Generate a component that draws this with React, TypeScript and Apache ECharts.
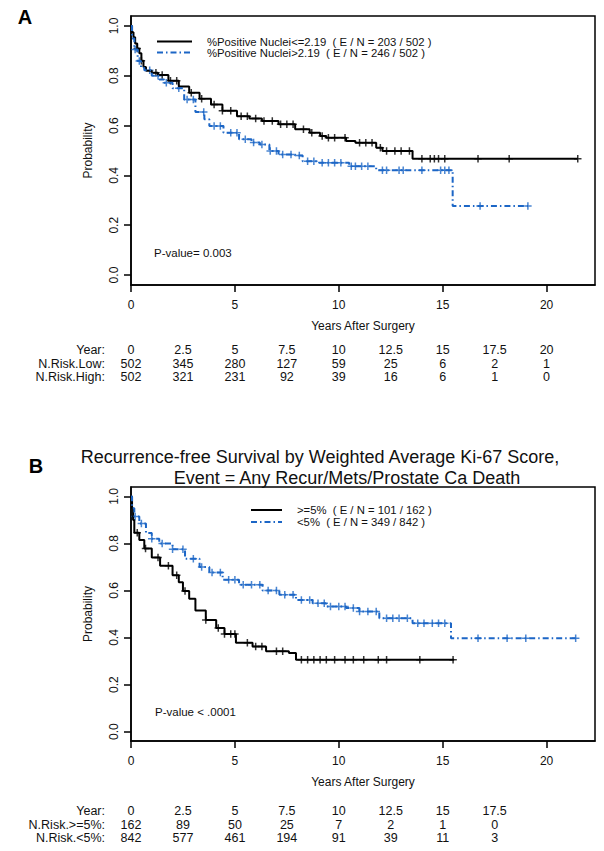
import React, { useEffect, useRef } from 'react';
import * as echarts from 'echarts';

const BLUE = '#1c66c6';
const BLACK = '#000000';
const FONT = "'Liberation Sans', Arial, Helvetica, sans-serif";

// ---------- Panel A : %Positive Nuclei ----------
const aLowTimes = [0, 0.05, 0.12, 0.2, 0.3, 0.4, 0.5, 0.6, 0.72, 1.0, 1.3, 1.8, 2.3, 2.8, 3.3, 3.85, 4.4, 5.1, 5.7, 6.3, 7.1, 7.9, 8.6, 9.1, 9.4, 10.35, 10.8, 11.8, 12.1, 13.55];
const aLowSurv = [1.0, 0.975, 0.955, 0.93, 0.91, 0.89, 0.86, 0.835, 0.82, 0.812, 0.803, 0.78, 0.757, 0.732, 0.708, 0.685, 0.66, 0.638, 0.628, 0.618, 0.605, 0.585, 0.571, 0.558, 0.551, 0.538, 0.531, 0.511, 0.498, 0.467];
const aLowEnd = 21.5;
const aLowCensor = [0.3, 0.5, 1.2, 1.5, 1.9, 2.2, 2.9, 3.4, 4.0, 4.4, 4.8, 5.3, 5.6, 6.0, 6.4, 6.8, 7.2, 7.5, 7.8, 8.3, 8.7, 9.2, 9.5, 9.8, 10.3, 11.0, 11.3, 11.6, 12.0, 12.3, 12.7, 13.0, 13.4, 14.0, 14.4, 14.6, 14.8, 15.1, 16.7, 18.2, 21.5];

const aHighTimes = [0, 0.05, 0.16, 0.32, 0.48, 0.64, 1.0, 1.36, 1.6, 2.0, 2.56, 3.1, 3.53, 3.77, 4.45, 5.2, 5.8, 6.2, 6.66, 7.1, 7.9, 8.26, 9.06, 10.5, 11.8, 15.48];
const aHighSurv = [1.0, 0.95, 0.906, 0.859, 0.832, 0.822, 0.8, 0.785, 0.772, 0.75, 0.705, 0.655, 0.625, 0.598, 0.571, 0.545, 0.532, 0.524, 0.498, 0.484, 0.48, 0.457, 0.451, 0.437, 0.421, 0.277];
const aHighEnd = 19.1;
const aHighCensor = [0.2, 0.4, 0.9, 1.3, 1.7, 2.3, 2.7, 3.0, 3.5, 4.0, 4.3, 4.8, 5.1, 5.5, 5.9, 6.3, 6.7, 7.0, 7.3, 7.7, 8.1, 8.5, 8.8, 9.2, 9.5, 9.8, 10.1, 10.6, 10.8, 11.1, 11.4, 12.1, 12.3, 12.9, 13.1, 14.0, 14.9, 15.1, 15.3, 16.8, 19.1];

const aLegend = ['%Positive Nuclei<=2.19  ( E / N = 203 / 502 )', '%Positive Nuclei>2.19  ( E / N = 246 / 502 )'];
const aPValue = 'P-value= 0.003';
const aRiskYears = [0, 2.5, 5, 7.5, 10, 12.5, 15, 17.5, 20];
const aRiskLow = [502, 345, 280, 127, 59, 25, 6, 2, 1];
const aRiskHigh = [502, 321, 231, 92, 39, 16, 6, 1, 0];
const aRiskLabels = ['Year:', 'N.Risk.Low:', 'N.Risk.High:'];

// ---------- Panel B : Ki-67 ----------
const bHighTimes = [0, 0.05, 0.1, 0.16, 0.4, 0.64, 1.0, 1.4, 2.0, 2.3, 2.5, 2.8, 3.1, 3.6, 4.1, 4.5, 5.05, 5.85, 6.5, 7.6, 7.94];
const bHighSurv = [1.0, 0.95, 0.9, 0.845, 0.815, 0.778, 0.74, 0.705, 0.665, 0.635, 0.598, 0.565, 0.515, 0.475, 0.44, 0.415, 0.378, 0.362, 0.342, 0.334, 0.305];
const bHighEnd = 15.55;
const bHighCensor = [0.3, 0.7, 1.3, 1.8, 2.2, 2.6, 3.6, 4.2, 4.5, 4.8, 5.0, 5.6, 6.0, 6.3, 7.0, 7.3, 8.2, 8.5, 8.8, 9.1, 9.4, 9.8, 10.3, 10.7, 11.2, 11.9, 12.3, 13.9, 15.5];

const bLowTimes = [0, 0.05, 0.16, 0.4, 0.72, 1.0, 1.36, 2.0, 2.6, 3.3, 3.77, 4.41, 5.2, 6.33, 7.14, 7.94, 8.74, 9.38, 10.35, 10.99, 11.95, 13.55, 15.4];
const bLowSurv = [1.0, 0.95, 0.915, 0.885, 0.844, 0.82, 0.8, 0.775, 0.735, 0.7, 0.676, 0.646, 0.624, 0.6, 0.582, 0.56, 0.546, 0.532, 0.525, 0.511, 0.482, 0.461, 0.397];
const bLowEnd = 21.4;
const bLowCensor = [0.2, 0.5, 1.0, 1.5, 2.0, 2.5, 3.0, 3.4, 3.9, 4.3, 4.7, 5.0, 5.4, 5.8, 6.2, 6.6, 7.0, 7.4, 7.8, 8.2, 8.6, 9.0, 9.3, 9.6, 10.0, 10.3, 10.7, 11.0, 11.4, 11.8, 12.3, 12.6, 12.9, 13.3, 13.8, 14.1, 14.5, 14.8, 15.1, 16.7, 18.1, 19.0, 21.4];

const bTitle = ['Recurrence-free Survival by Weighted Average Ki-67 Score,', 'Event = Any Recur/Mets/Prostate Ca Death'];
const bLegend = ['>=5%  ( E / N = 101 / 162 )', '<5%  ( E / N = 349 / 842 )'];
const bPValue = 'P-value < .0001';
const bRiskYears = [0, 2.5, 5, 7.5, 10, 12.5, 15, 17.5];
const bRiskHigh = [162, 89, 50, 25, 7, 2, 1, 0];
const bRiskLow = [842, 577, 461, 194, 91, 39, 11, 3];
const bRiskLabels = ['Year:', 'N.Risk.>=5%:', 'N.Risk.<5%:'];

const xTicks = [0, 5, 10, 15, 20];
const yTicks = [0, 0.2, 0.4, 0.6, 0.8, 1.0];

const PLUS = 'path://M4,0L6,0L6,4L10,4L10,6L6,6L6,10L4,10L4,6L0,6L0,4L4,4Z';
const DASHDOT = [6, 3, 1.5, 3];

function stepData(times: number[], surv: number[], end: number) {
  const d = times.map((t, i) => [t, surv[i]]);
  d.push([end, surv[surv.length - 1]]);
  return d;
}
function censorData(times: number[], surv: number[], cens: number[]) {
  return cens.map((c) => {
    let s = surv[0];
    for (let i = 0; i < times.length; i++) if (times[i] <= c) s = surv[i];
    return [c, s];
  });
}

function makeXAxis(gi: number) {
  return {
    gridIndex: gi,
    type: 'value',
    min: 0,
    max: 22.33,
    axisLine: { show: true, onZero: false, lineStyle: { color: '#000', width: 1.5 } },
    axisTick: { show: true, length: 7, customValues: xTicks, lineStyle: { color: '#000', width: 1.5 } },
    axisLabel: { customValues: xTicks, fontSize: 12, color: '#111', margin: 14, fontFamily: FONT },
    splitLine: { show: false },
    name: 'Years After Surgery',
    nameLocation: 'middle',
    nameGap: 35,
    nameTextStyle: { fontSize: 12, color: '#111', fontFamily: FONT },
  };
}
function makeYAxis(gi: number) {
  return {
    gridIndex: gi,
    type: 'value',
    min: -0.04,
    max: 1.04,
    axisLine: { show: true, onZero: false, lineStyle: { color: '#000', width: 1.5 } },
    axisTick: { show: true, length: 7, customValues: yTicks, lineStyle: { color: '#000', width: 1.5 } },
    axisLabel: {
      customValues: yTicks,
      rotate: 90,
      fontSize: 12,
      color: '#111',
      margin: 11,
      fontFamily: FONT,
      formatter: (v: number) => v.toFixed(1),
    },
    splitLine: { show: false },
    name: 'Probability',
    nameLocation: 'middle',
    nameGap: 37,
    nameRotate: 90,
    nameTextStyle: { fontSize: 12, color: '#111', fontFamily: FONT },
  };
}

function lineSeries(gi: number, data: number[][], color: string, dash: any) {
  return {
    type: 'line',
    xAxisIndex: gi,
    yAxisIndex: gi,
    step: 'end',
    symbol: 'none',
    data,
    lineStyle: { color, width: 2, type: dash },
    silent: true,
  };
}
function censorSeries(gi: number, data: number[][], color: string) {
  return {
    type: 'scatter',
    xAxisIndex: gi,
    yAxisIndex: gi,
    symbol: PLUS,
    symbolSize: 7.5,
    data,
    itemStyle: { color },
    silent: true,
  };
}

function txt(text: string, x: number, y: number, size: number, align: string, extra: any = {}) {
  return {
    type: 'text',
    x,
    y,
    silent: true,
    ...extra,
    style: {
      text,
      x: 0,
      y: 0,
      fill: '#111',
      fontSize: size,
      fontFamily: FONT,
      textAlign: align,
      textVerticalAlign: 'middle',
      ...(extra.style || {}),
    },
  };
}

export default function App() {
  const ref = useRef<HTMLDivElement>(null);
  useEffect(() => {
    document.body.style.margin = '0';
    if (!ref.current) return;
    const chart = echarts.init(ref.current, null, { renderer: 'svg' });
    chart.setOption({
      animation: false,
      backgroundColor: '#fff',
      grid: [
        { left: 131, top: 16, width: 464, height: 269, show: true, borderColor: '#000', borderWidth: 1.5 },
        { left: 131, top: 487, width: 464, height: 254, show: true, borderColor: '#000', borderWidth: 1.5 },
      ],
      xAxis: [makeXAxis(0), makeXAxis(1)],
      yAxis: [makeYAxis(0), makeYAxis(1)],
      series: [
        lineSeries(0, stepData(aLowTimes, aLowSurv, aLowEnd), BLACK, 'solid'),
        lineSeries(0, stepData(aHighTimes, aHighSurv, aHighEnd), BLUE, DASHDOT),
        censorSeries(0, censorData(aLowTimes, aLowSurv, aLowCensor), BLACK),
        censorSeries(0, censorData(aHighTimes, aHighSurv, aHighCensor), BLUE),
        lineSeries(1, stepData(bHighTimes, bHighSurv, bHighEnd), BLACK, 'solid'),
        lineSeries(1, stepData(bLowTimes, bLowSurv, bLowEnd), BLUE, DASHDOT),
        censorSeries(1, censorData(bHighTimes, bHighSurv, bHighCensor), BLACK),
        censorSeries(1, censorData(bLowTimes, bLowSurv, bLowCensor), BLUE),
      ],
    });

    const g: any[] = [];
    // panel letters
    g.push(txt('A', 25, 17, 20, 'center', { style: { fontWeight: 'bold', fill: '#000' } }));
    g.push(txt('B', 36, 466, 20, 'center', { style: { fontWeight: 'bold', fill: '#000' } }));
    // title B
    g.push(txt(bTitle[0], 320, 457, 18, 'center'));
    g.push(txt(bTitle[1], 347, 478, 18, 'center'));
    // legends
    const legend = (x1: number, x2: number, tx: number, ys: number[], labels: string[]) => {
      g.push({ type: 'line', silent: true, shape: { x1, y1: ys[0], x2, y2: ys[0] }, style: { stroke: BLACK, lineWidth: 2 } });
      g.push({ type: 'line', silent: true, shape: { x1, y1: ys[1], x2, y2: ys[1] }, style: { stroke: BLUE, lineWidth: 2, lineDash: DASHDOT } });
      g.push(txt(labels[0], tx, ys[0], 11.3, 'left'));
      g.push(txt(labels[1], tx, ys[1], 11.3, 'left'));
    };
    legend(157, 192, 207, [41.5, 52.5], aLegend);
    legend(251, 282, 297, [510, 522], bLegend);
    // p-values
    g.push(txt(aPValue, 154, 253, 11.5, 'left'));
    g.push(txt(bPValue, 155, 712, 11.5, 'left'));
    // risk tables
    const table = (gi: number, years: number[], r1: number[], r2: number[], labels: string[], ys: number[]) => {
      labels.forEach((l, i) => g.push(txt(l, 105, ys[i], 12.5, 'right')));
      years.forEach((yr, i) => {
        const px = chart.convertToPixel({ xAxisIndex: gi }, yr) as number;
        g.push(txt(String(yr), px, ys[0], 12.5, 'center'));
        g.push(txt(String(r1[i]), px, ys[1], 12.5, 'center'));
        g.push(txt(String(r2[i]), px, ys[2], 12.5, 'center'));
      });
    };
    table(0, aRiskYears, aRiskLow, aRiskHigh, aRiskLabels, [350, 363.5, 377]);
    table(1, bRiskYears, bRiskHigh, bRiskLow, bRiskLabels, [811, 824.5, 838]);

    chart.setOption({ graphic: g });
    return () => chart.dispose();
  }, []);
  return <div ref={ref} style={{ width: 604, height: 851 }} />;
}
